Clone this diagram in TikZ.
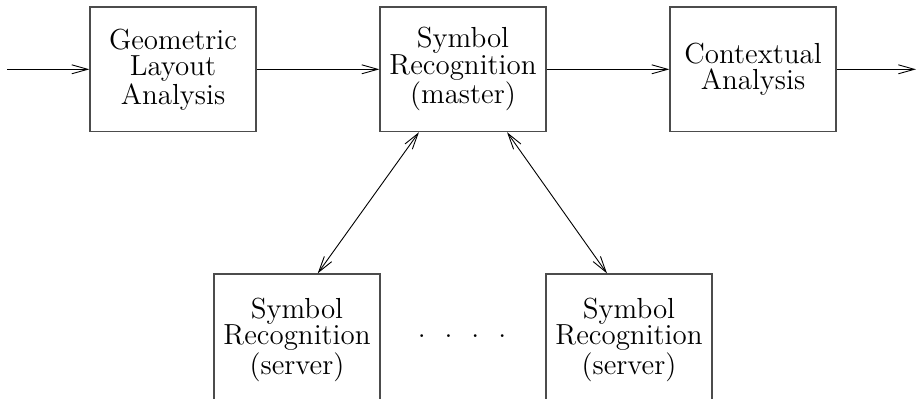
\documentclass[tikz,border=0pt]{standalone}
\usetikzlibrary{arrows.meta}

\tikzset{
  block/.style={draw=black!70, line width=0.6pt, rectangle, inner sep=0pt,
    minimum width=83pt, minimum height=62.3pt, align=center,
    font=\fontsize{14.5}{13.2}\selectfont},
  server/.style={block, minimum height=66pt},
  flow/.style={line width=0.45pt, -{Straight Barb[length=8pt,width=4.5pt]}},
  link/.style={line width=0.45pt,
    {Straight Barb[length=8pt,width=4.5pt]}-{Straight Barb[length=8pt,width=4.5pt]}}
}

\begin{document}
\begin{tikzpicture}[x=0.5pt,y=-0.5pt]
\useasboundingbox (0,0) rectangle (917,398);
\clip (0,0) rectangle (917,398);

% main pipeline
\node[block] (geom) at (173,69.3) {Geometric\\Layout\\Analysis};
\node[block] (master) at (463,69.3) {Symbol\\Recognition\\(master)};
\node[block] (context) at (753,69.3) {Contextual\\Analysis};

% recognition servers (cut off at the bottom)
\node[server] (srvA) at (297,340) {Symbol\\Recognition\\(server)};
\node[server] (srvB) at (629,340) {Symbol\\Recognition\\(server)};
\node[font=\fontsize{14.5}{13.2}\selectfont] (dots) at (462,336) {.\ \ .\ \ .\ \ .};

\coordinate (in) at (7,69.3);
\coordinate (out) at (916,69.3);

% flow through the pipeline
\draw[flow] (in) -- (geom);
\draw[flow] (geom) -- (master);
\draw[flow] (master) -- (context);
\draw[flow] (context) -- (out);

% master <-> servers
\draw[link] (master.235) -- (srvA.north west -| 317.7,0);
\draw[link] (master.305) -- (srvB.north west -| 607,0);
\end{tikzpicture}
\end{document}
